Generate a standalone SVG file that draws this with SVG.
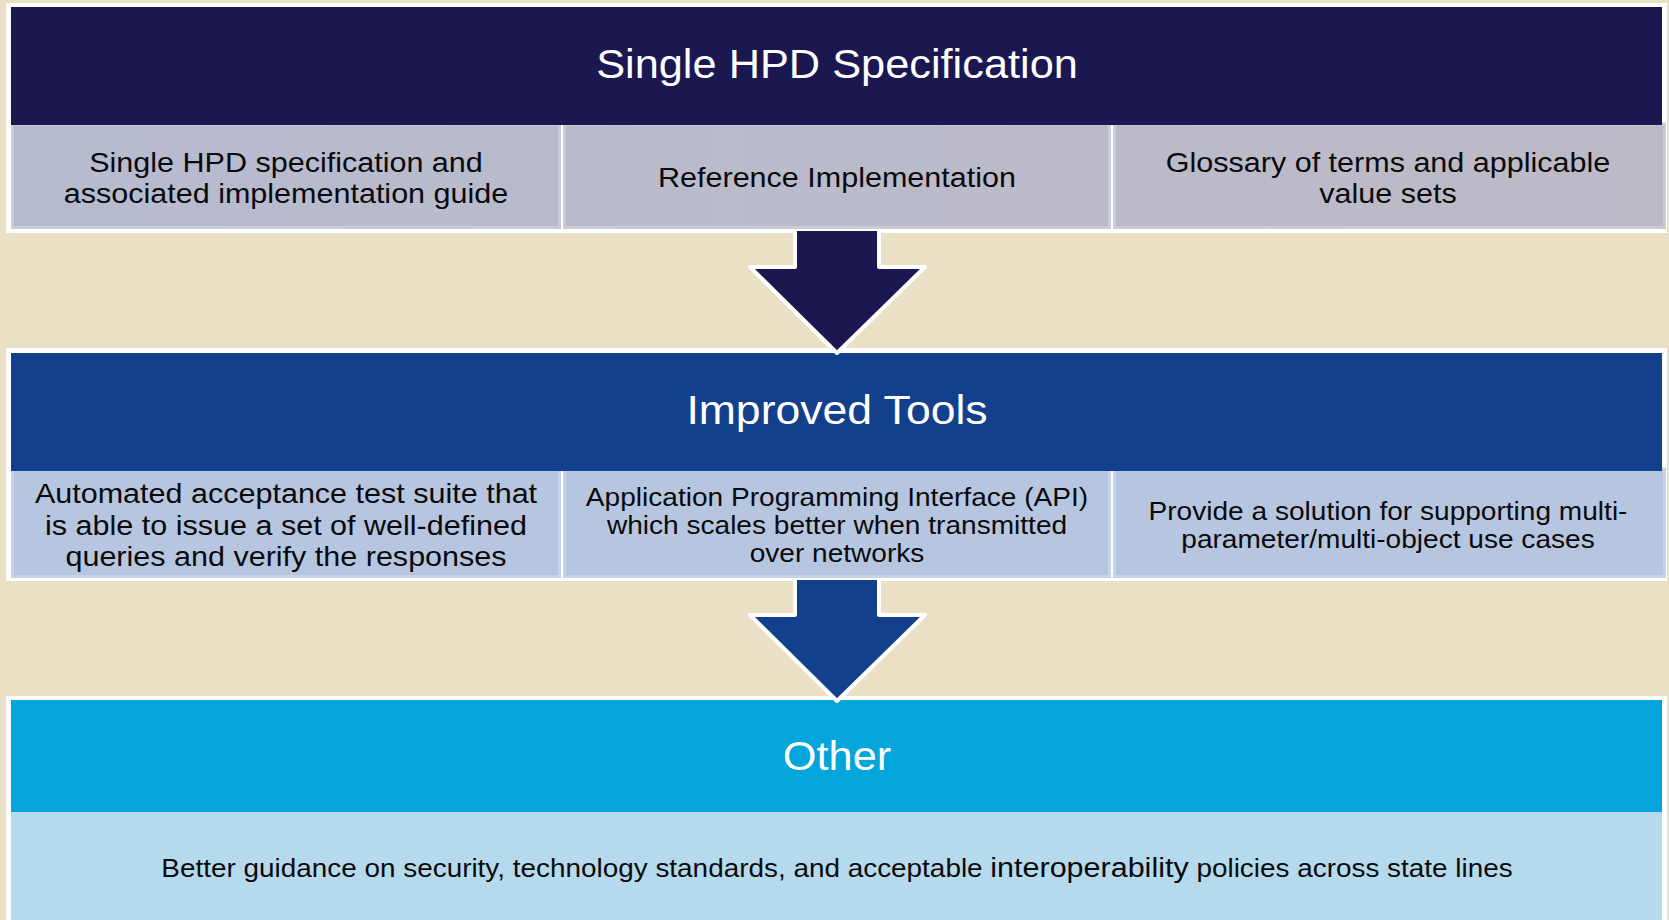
<svg xmlns="http://www.w3.org/2000/svg" width="1669" height="920" viewBox="0 0 1669 920">
<defs>
<linearGradient id="g1" gradientUnits="userSpaceOnUse" x1="11" y1="0" x2="1666" y2="0">
<stop offset="0" stop-color="#B7BBD0"/>
<stop offset="1" stop-color="#BDBAC6"/>
</linearGradient>
<style>
.frame{fill:#FFFFFF}
.h1{fill:#1B1851}
.h2{fill:#12408C}
.h3{fill:#03A5DB}
.c1{fill:url(#g1);stroke:#CACBD9;stroke-width:3}
.c2{fill:#B7C6E0;stroke:#C7D3E7;stroke-width:3}
.c3{fill:#B6DAED}
.ht{font-family:"Liberation Sans",Arial,sans-serif;font-size:40.5px;fill:#FFFFFF;text-anchor:middle}
.ct{font-family:"Liberation Sans",Arial,sans-serif;font-size:27.5px;fill:#0A0A0A;text-anchor:middle}
.cs{font-family:"Liberation Sans",Arial,sans-serif;font-size:26px;fill:#0A0A0A;text-anchor:middle}
.bt{font-family:"Liberation Sans",Arial,sans-serif;font-size:25.6px;fill:#0A0A0A;text-anchor:middle}
.af{stroke:none}
.as{fill:none;stroke:#FFFFFF;stroke-width:4;stroke-linejoin:round}
</style>
</defs>
<rect x="0" y="0" width="1669" height="920" fill="#E9E0C6"/>

<g id="panel-single-hpd">
<rect class="frame" x="6" y="3" width="1661" height="230"/>
<rect class="c1" x="12.5" y="124" width="547" height="103.5"/>
<rect class="c1" x="564.5" y="124" width="545" height="103.5"/>
<rect class="c1" x="1114.5" y="124" width="550" height="103.5"/>
<rect class="h1" x="11" y="7" width="1651" height="118"/>
<text class="ht" transform="matrix(1.07 0 0 1 837 0)" x="0" y="78.5">Single HPD Specification</text>
</g>
<g id="cell-spec-guide">
<text class="ct" transform="matrix(1.11 0 0 1 286 0)"><tspan x="0" y="172">Single HPD specification and</tspan><tspan x="0" y="203">associated implementation guide</tspan></text>
</g>
<g id="cell-reference-impl">
<text class="ct" transform="matrix(1.11 0 0 1 837 0)" x="0" y="187.5">Reference Implementation</text>
</g>
<g id="cell-glossary">
<text class="ct" transform="matrix(1.11 0 0 1 1388 0)"><tspan x="0" y="172">Glossary of terms and applicable</tspan><tspan x="0" y="203">value sets</tspan></text>
</g>

<g id="panel-improved-tools">
<rect class="frame" x="6" y="348" width="1661" height="233"/>
<rect class="c2" x="12.5" y="469" width="547" height="107.5"/>
<rect class="c2" x="564.5" y="469" width="545" height="107.5"/>
<rect class="c2" x="1114.5" y="469" width="550" height="107.5"/>
<rect class="h2" x="11" y="353" width="1651" height="118"/>
<text class="ht" transform="matrix(1.1 0 0 1 837 0)" x="0" y="424.5">Improved Tools</text>
</g>
<g id="cell-test-suite">
<text class="ct" transform="matrix(1.11 0 0 1 286 0)"><tspan x="0" y="503">Automated acceptance test suite that</tspan><tspan x="0" y="535">is able to issue a set of well-defined</tspan><tspan x="0" y="566.5">queries and verify the responses</tspan></text>
</g>
<g id="cell-api">
<text class="cs" transform="matrix(1.08 0 0 1 837 0)"><tspan x="0" y="506">Application Programming Interface (API)</tspan><tspan x="0" y="534">which scales better when transmitted</tspan><tspan x="0" y="562">over networks</tspan></text>
</g>
<g id="cell-multi-param">
<text class="cs" transform="matrix(1.08 0 0 1 1388 0)"><tspan x="0" y="520">Provide a solution for supporting multi-</tspan><tspan x="0" y="548">parameter/multi-object use cases</tspan></text>
</g>

<g id="panel-other">
<rect class="frame" x="6" y="696" width="1661" height="230"/>
<rect class="c3" x="11" y="812" width="1651" height="110"/>
<rect class="h3" x="11" y="700" width="1651" height="112"/>
<text class="ht" transform="matrix(1.07 0 0 1 837 0)" x="0" y="770">Other</text>
</g>
<g id="cell-guidance">
<text class="bt" transform="matrix(1.09 0 0 1 837 0)" x="0" y="877">Better guidance on security, technology standards, and acceptable <tspan font-size="28px">interoperability</tspan> policies across state lines</text>
</g>

<g id="connectors">
<path class="af h1" d="M795,231 L795,267 L750,267 L837,353 L925,267 L879,267 L879,231 Z"/>
<path class="as" d="M795,230 L795,267 L750,267 L837,353 L925,267 L879,267 L879,230"/>
<path class="af h2" d="M795,580 L795,615 L750,615 L837,701 L925,615 L879,615 L879,580 Z"/>
<path class="as" d="M795,579 L795,615 L750,615 L837,701 L925,615 L879,615 L879,579"/>
</g>
</svg>
